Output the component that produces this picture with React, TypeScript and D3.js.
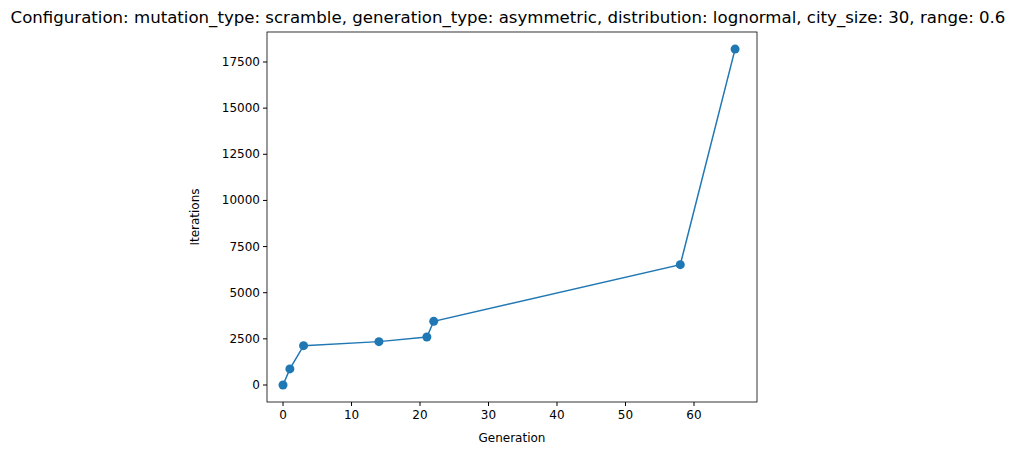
import * as d3 from "d3";

const generations = [0, 1, 3, 14, 21, 22, 58, 66];
const iterations = [0, 870, 2130, 2350, 2600, 3450, 6520, 18200];
const xTicks = [0, 10, 20, 30, 40, 50, 60];
const yTicks = [0, 2500, 5000, 7500, 10000, 12500, 15000, 17500];

const W = 1017;
const H = 455;
const left = 267, right = 757, top = 32, bottom = 402;
const font = "DejaVu Sans, sans-serif";

export default function App() {
  const x = d3.scaleLinear().domain([-2.34, 69.2]).range([left, right]);
  const y = d3.scaleLinear().domain([-921, 19125]).range([bottom, top]);
  const pts = generations.map((g, i) => [g, iterations[i]] as [number, number]);
  const line = d3.line<[number, number]>().x(d => x(d[0])).y(d => y(d[1]));

  return (
    <svg width={W} height={H} style={{ position: "absolute", left: 0, top: 0, background: "#fff" }} fontFamily={font}>
      <text x={508} y={23} textAnchor="middle" fontSize={16.6} fill="#000">
        Configuration: mutation_type: scramble, generation_type: asymmetric, distribution: lognormal, city_size: 30, range: 0.6
      </text>
      {xTicks.map(t => (
        <g key={t}>
          <line x1={x(t)} x2={x(t)} y1={bottom} y2={bottom + 4} stroke="#000" />
          <text x={x(t)} y={bottom + 17} textAnchor="middle" fontSize={12}>{t}</text>
        </g>
      ))}
      {yTicks.map(t => (
        <g key={t}>
          <line x1={left - 4} x2={left} y1={y(t)} y2={y(t)} stroke="#000" />
          <text x={left - 7} y={y(t) + 4} textAnchor="end" fontSize={12}>{t}</text>
        </g>
      ))}
      <text x={(left + right) / 2} y={442} textAnchor="middle" fontSize={12}>Generation</text>
      <text transform={`translate(199,${(top + bottom) / 2}) rotate(-90)`} textAnchor="middle" fontSize={12}>Iterations</text>
      <path d={line(pts) || ""} fill="none" stroke="#1f77b4" strokeWidth={1.5} />
      {pts.map((p, i) => (
        <circle key={i} cx={x(p[0])} cy={y(p[1])} r={4.5} fill="#1f77b4" />
      ))}
      <rect x={left} y={top} width={right - left} height={bottom - top} fill="none" stroke="#000" strokeWidth={0.8} />
    </svg>
  );
}
